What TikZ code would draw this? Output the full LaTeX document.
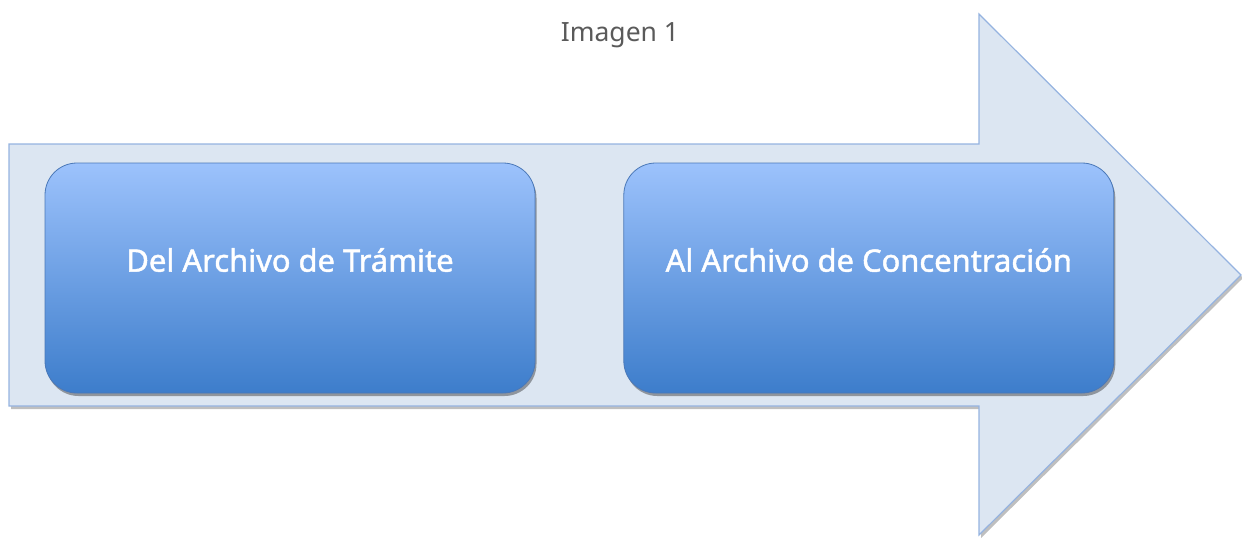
\documentclass[tikz,border=0pt]{standalone}
\usepackage{fontspec}
\setmainfont{Noto Sans}
\usetikzlibrary{positioning,shadows}

\begin{document}
\begin{tikzpicture}[x=1pt,y=-1pt,
	caja/.style={draw=bordecaja,line width=0.8pt,rounded corners=32pt,
		minimum width=490pt,minimum height=230pt,inner sep=0pt,
		top color=cajaarriba,middle color=cajamedio,bottom color=cajaabajo,
		drop shadow={shadow xshift=1.5pt,shadow yshift=-3pt,opacity=0.35,fill=black}},
	etiqueta/.style={text=white,font=\fontsize{30.9}{36}\selectfont\addfontfeature{FakeBold=1.5},yshift=18pt}]
			\definecolor{flecha}{HTML}{DCE6F2}
			\definecolor{bordeflecha}{HTML}{95B3E0}
			\definecolor{cajaarriba}{HTML}{9CC2FC}
			\definecolor{cajamedio}{HTML}{86AEEF}
			\definecolor{cajaabajo}{HTML}{3D7DCB}
			\definecolor{bordecaja}{HTML}{4A78B8}
			\definecolor{titulo}{HTML}{5A5A5A}
				\useasboundingbox (0,0) rectangle (1242,538);
				\fill [flecha,draw=bordeflecha,line width=1.2pt,drop shadow={shadow xshift=2pt,shadow yshift=-3pt,opacity=0.25,fill=black}]
					(9,144) -- (979,144) -- (979,14) -- (1241,275) -- (979,535) -- (979,406) -- (9,406) -- cycle;
				\node [text=titulo,font=\fontsize{26.5}{32}\selectfont,anchor=base] (titulo) at (620,41) {Imagen 1};
				\node [caja,label={[etiqueta]center:Del Archivo de Trámite}] (tramite) at (290,278) {};
				\node [caja,right=88pt of tramite,label={[etiqueta]center:Al Archivo de Concentración}] (concentracion) {};
		\end{tikzpicture}
\end{document}
